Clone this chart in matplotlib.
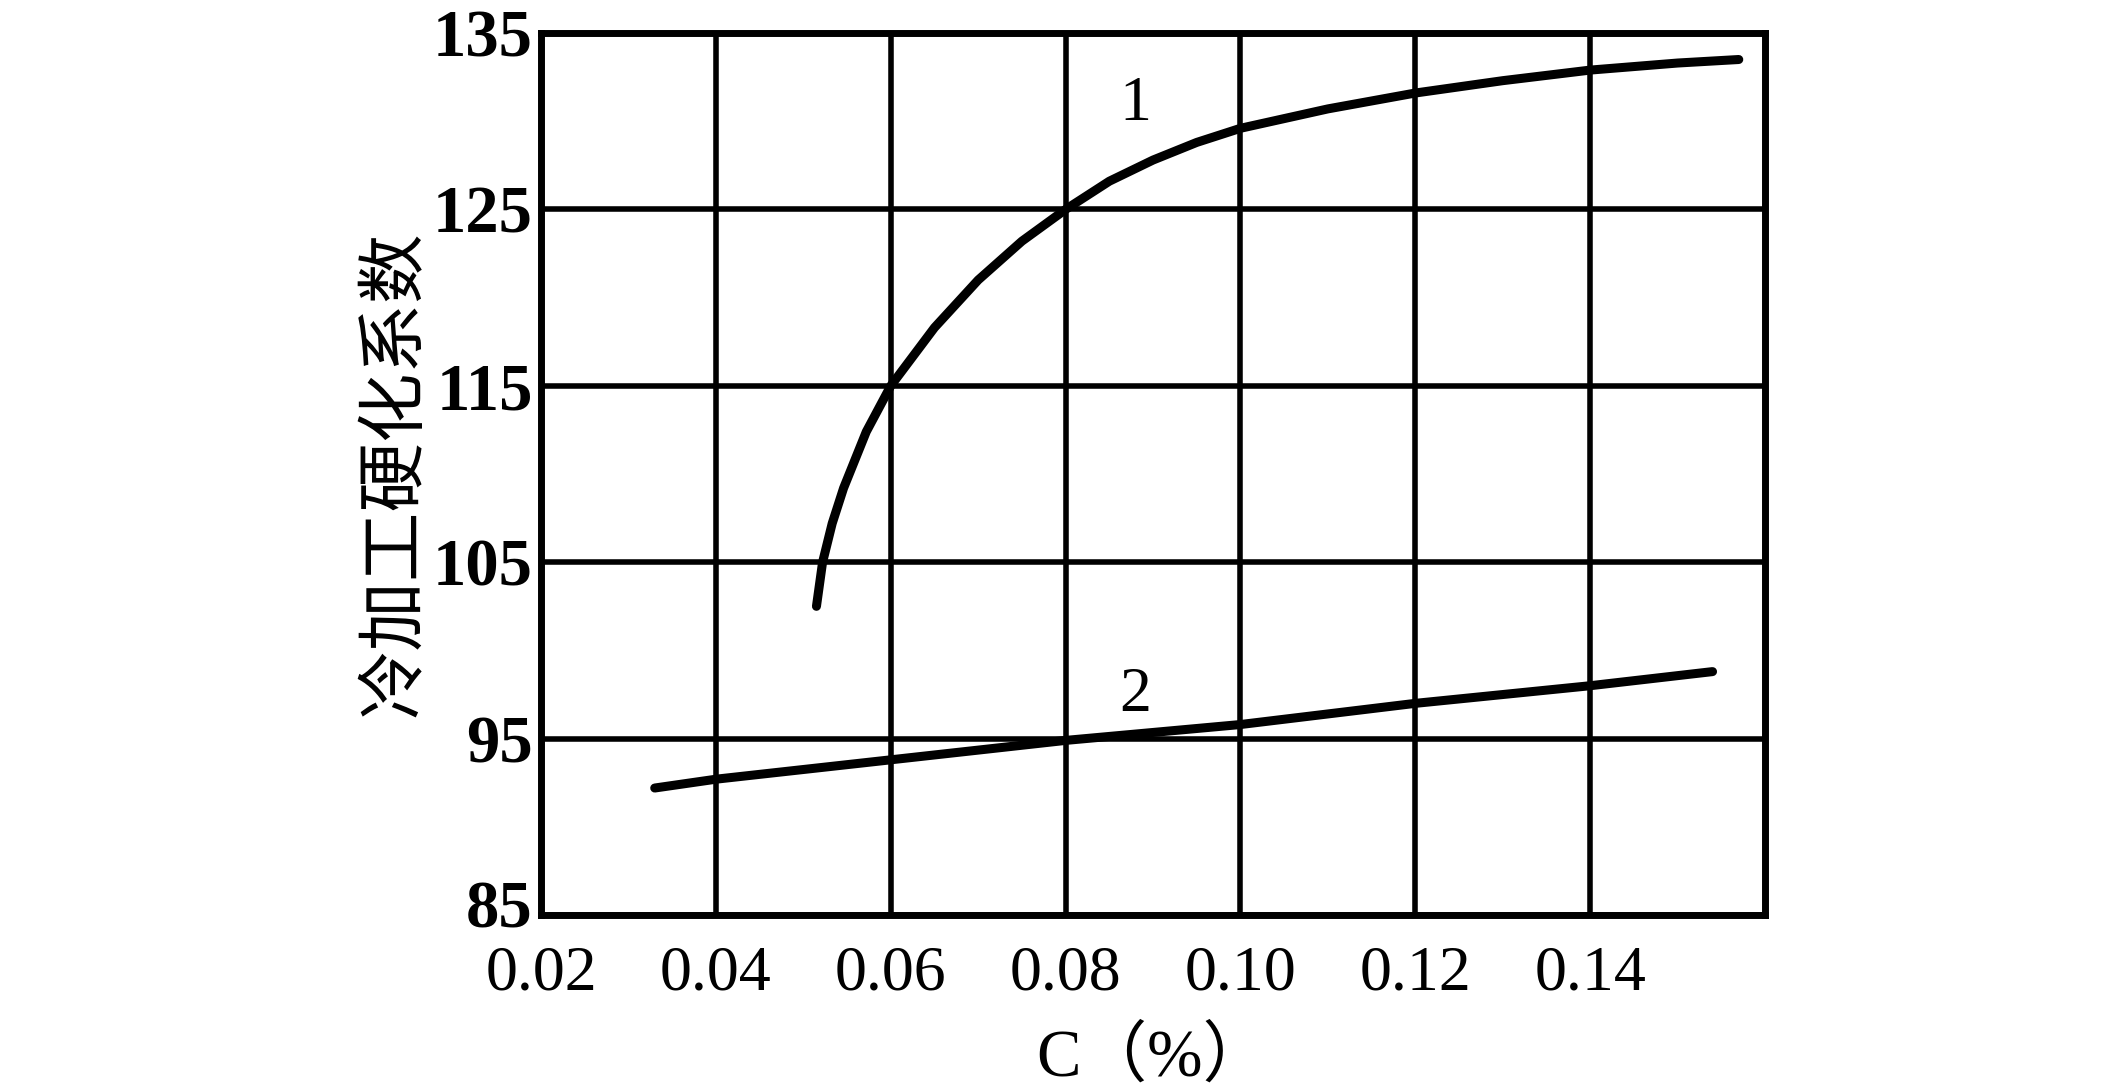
import matplotlib
matplotlib.use("Agg")
from matplotlib import pyplot as plt
from matplotlib.transforms import ScaledTranslation

# 冷加工硬化系数 与 含碳量 的关系
# 曲线1
c1_x = [0.0515, 0.0522, 0.0533, 0.0546, 0.0572, 0.060, 0.065, 0.070, 0.075, 0.080,
        0.085, 0.090, 0.095, 0.100, 0.110, 0.120, 0.130, 0.140, 0.150, 0.157]
c1_y = [102.5, 105.0, 107.2, 109.2, 112.4, 115.0, 118.3, 121.0, 123.2, 125.0,
        126.6, 127.8, 128.8, 129.6, 130.7, 131.6, 132.3, 132.9, 133.3, 133.5]
# 曲线2
c2_x = [0.033, 0.040, 0.060, 0.080, 0.100, 0.120, 0.140, 0.154]
c2_y = [92.2, 92.7, 93.8, 94.9, 95.8, 97.0, 98.0, 98.8]

x_ticks = [0.02, 0.04, 0.06, 0.08, 0.10, 0.12, 0.14]
x_labels = ["0.02", "0.04", "0.06", "0.08", "0.10", "0.12", "0.14"]
y_ticks = [85, 95, 105, 115, 125, 135]
curve_names = ["1", "2"]
name_pos = [(0.088, 130.9), (0.088, 97.4)]

fig = plt.figure(figsize=(21.26, 10.87), dpi=100)
ax = fig.add_axes([0.2545, 0.1582, 0.5757, 0.8114])

ax.plot(c1_x, c1_y, color="black", lw=6.5, solid_capstyle="round", zorder=3)
ax.plot(c2_x, c2_y, color="black", lw=6.5, solid_capstyle="round", zorder=3)

for name, (px, py) in zip(curve_names, name_pos):
    ax.text(px, py, name, family="Liberation Serif", fontsize=46,
            ha="center", va="center", zorder=4)

ax.set_xlim(0.02, 0.16)
ax.set_ylim(85, 135)
ax.set_xticks(x_ticks)
ax.set_xticklabels(x_labels, family="Liberation Serif", fontsize=46)
ax.set_yticks(y_ticks)
ax.set_yticklabels([str(v) for v in y_ticks], family="Liberation Serif",
                   fontsize=48, fontweight="bold")
ax.tick_params(axis="x", length=0, pad=22)
ax.tick_params(axis="y", length=0, pad=6)
ax.grid(True, color="black", lw=4)
for s in ax.spines.values():
    s.set_linewidth(5)

# 最下面的 85 稍微上移, 避免和 0.02 挤在一起
lab85 = ax.get_yticklabels()[0]
lab85.set_transform(lab85.get_transform() + ScaledTranslation(0, 8 / 72, fig.dpi_scale_trans))

ax.set_xlabel("C（%）", family=["Liberation Serif", "Noto Sans CJK SC"],
              fontsize=48, labelpad=16)
ax.set_ylabel("冷加工硬化系数", family=["Noto Sans CJK SC", "DejaVu Sans"],
              fontsize=50, labelpad=2)

fig.savefig("out.png", dpi=100, facecolor="white")
